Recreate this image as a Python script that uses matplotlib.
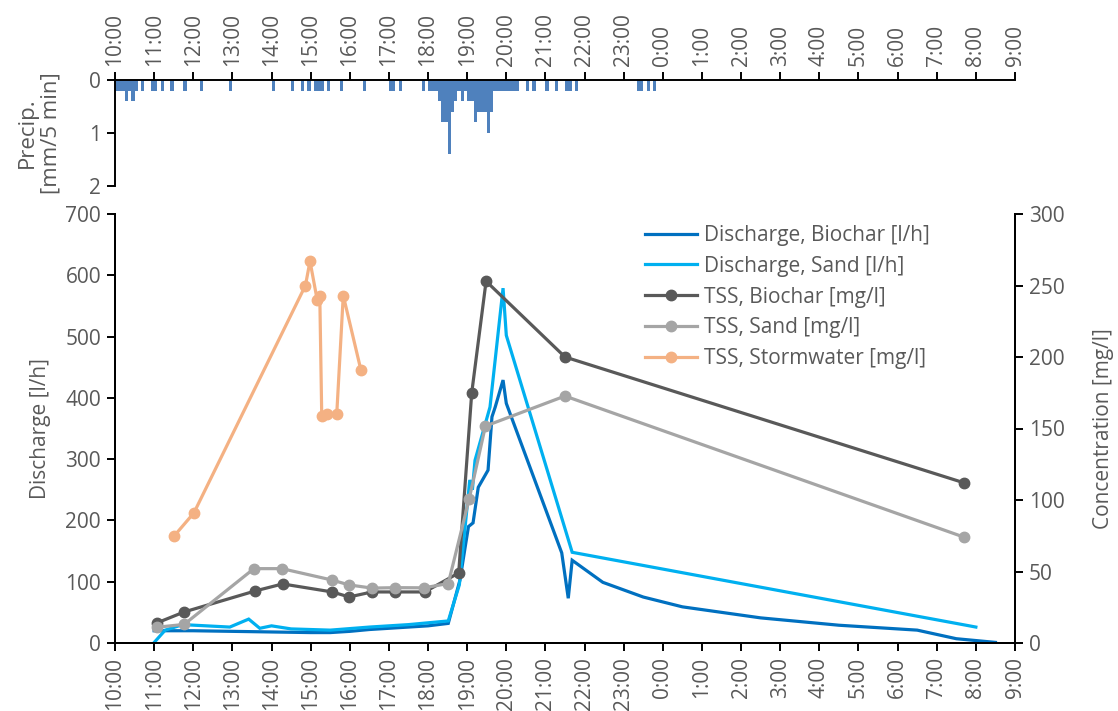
import matplotlib
matplotlib.use("Agg")
import matplotlib.pyplot as plt

plt.rcParams["font.family"] = ["Open Sans", "DejaVu Sans"]

TEXT = "#595959"

# ---- data -------------------------------------------------------------
hour_labels = ["10:00", "11:00", "12:00", "13:00", "14:00", "15:00", "16:00",
               "17:00", "18:00", "19:00", "20:00", "21:00", "22:00", "23:00",
               "0:00", "1:00", "2:00", "3:00", "4:00", "5:00", "6:00", "7:00",
               "8:00", "9:00"]

# precipitation, 5-minute intervals (start time, mm)
precip_time = ["10:00", "10:05", "10:10", "10:15", "10:20", "10:25", "10:30",
               "10:40", "10:55", "11:00", "11:10", "11:25", "11:45", "12:10",
               "12:55", "14:00", "14:30", "14:45", "14:55", "15:05", "15:10",
               "15:15", "15:25", "15:45", "16:20", "17:00", "17:05", "17:15",
               "17:50", "18:00", "18:05", "18:10", "18:15", "18:20", "18:25",
               "18:30", "18:35", "18:40", "18:45", "18:50", "18:55", "19:00",
               "19:05", "19:10", "19:15", "19:20", "19:25", "19:30", "19:35",
               "19:40", "19:45", "19:50", "19:55", "20:00", "20:05", "20:10",
               "20:15", "20:30", "20:40", "21:00", "21:15", "21:30", "21:35",
               "21:45", "23:20", "23:25", "23:35", "23:45"]
precip_mm = [0.2, 0.2, 0.2, 0.4, 0.2, 0.4, 0.2,
             0.2, 0.2, 0.2, 0.2, 0.2, 0.2, 0.2,
             0.2, 0.2, 0.2, 0.2, 0.2, 0.2, 0.2,
             0.2, 0.2, 0.2, 0.2, 0.2, 0.2, 0.2,
             0.2, 0.2, 0.2, 0.2, 0.4, 0.8, 0.8,
             1.4, 0.6, 0.4, 0.2, 0.4, 0.2, 0.4,
             0.4, 0.8, 0.6, 0.6, 0.6, 1.0, 0.6,
             0.2, 0.2, 0.2, 0.2, 0.2, 0.2, 0.2,
             0.2, 0.2, 0.2, 0.2, 0.2, 0.2, 0.2,
             0.2, 0.2, 0.2, 0.2, 0.2]

# discharge [l/h]
q_biochar_time = ["11:00", "12:00", "13:00", "14:00", "15:00", "15:30", "16:00",
                  "16:30", "17:00", "18:00", "18:31", "18:49", "18:57", "19:02",
                  "19:09", "19:17", "19:32", "19:38", "19:43", "19:55", "20:00",
                  "21:25", "21:35", "21:41", "22:28", "23:30", "0:30", "2:30",
                  "4:30", "6:30", "7:30", "8:30"]
q_biochar = [20, 20, 19, 18, 17, 17, 19,
             22, 24, 28, 32, 103, 157, 190,
             196, 254, 282, 369, 385, 429, 391,
             147, 73, 135, 99, 75, 59, 41,
             29, 21, 7, 1]

q_sand_time = ["11:01", "11:17", "11:44", "12:56", "13:25", "13:42", "14:00",
               "14:30", "15:30", "16:30", "17:30", "18:31", "18:48", "19:04",
               "19:08", "19:12", "19:35", "19:55", "20:00", "21:41", "7:50",
               "8:00"]
q_sand = [2, 21, 30, 26, 39, 24, 28,
          23, 21, 26, 30, 36, 95, 266,
          250, 298, 385, 579, 502, 148, 28,
          26]

# total suspended solids [mg/l]
tss_biochar_time = ["11:04", "11:46", "13:35", "14:17", "15:33", "15:59",
                    "16:34", "17:10", "17:55", "18:47", "19:07", "19:29",
                    "21:30", "7:42"]
tss_biochar = [14, 21.7, 36.4, 41.3, 35.7, 32.2,
               35.7, 35.7, 35.7, 49, 175, 253,
               200, 112]

tss_sand_time = ["11:04", "11:46", "13:33", "14:16", "15:33", "15:59",
                 "16:34", "17:10", "17:54", "18:31", "19:03", "19:28",
                 "21:30", "7:42"]
tss_sand = [11, 13, 52, 52, 44, 40.6,
            38.4, 38.7, 38.6, 41.6, 100.6, 151.7,
            172.7, 74]

tss_storm_time = ["11:31", "12:01", "14:52", "14:59", "15:10", "15:14",
                  "15:17", "15:25", "15:40", "15:50", "16:17"]
tss_storm = [75, 91, 250, 267, 240, 243,
             159, 160, 160, 243, 191]


def hours(stamps):
    """Hours elapsed since 10:00 on the first day."""
    out = []
    for s in stamps:
        h, m = map(int, s.split(":"))
        if h < 10:
            h += 24
        out.append(h - 10 + m / 60)
    return out


# ---- figure -----------------------------------------------------------
W, H = 1118, 711
fig = plt.figure(figsize=(W / 100, H / 100), dpi=100)
L, R = 115, 1015
axp = fig.add_axes([L / W, 1 - 186 / H, (R - L) / W, 106 / H])
ax = fig.add_axes([L / W, 1 - 643 / H, (R - L) / W, 429 / H])
ax2 = ax.twinx()

FS = 15
tick_kw = dict(direction="out", length=6, width=1.4, colors="black",
               labelcolor=TEXT, labelsize=FS, pad=4)

# precipitation panel (inverted)
axp.bar(hours(precip_time), precip_mm, width=1 / 12, align="edge",
        color="#4F81BD", linewidth=0)
axp.set_xlim(0, 23)
axp.set_ylim(2, 0)
axp.set_yticks([0, 1, 2])
axp.xaxis.tick_top()
axp.set_xticks(range(24))
axp.set_xticklabels(hour_labels, rotation=90)
axp.tick_params(axis="both", **tick_kw)
for side in ("bottom", "right"):
    axp.spines[side].set_visible(False)
for side in ("top", "left"):
    axp.spines[side].set_linewidth(1.4)
axp.set_ylabel("Precip.\n[mm/5 min]", color=TEXT, fontsize=16, labelpad=20,
               linespacing=1.15)

# discharge and TSS panel
l1, = ax.plot(hours(q_biochar_time), q_biochar, color="#0070C0", lw=2.3,
              label="Discharge, Biochar [l/h]", solid_joinstyle="miter")
l2, = ax.plot(hours(q_sand_time), q_sand, color="#00B0F0", lw=2.3,
              label="Discharge, Sand [l/h]", solid_joinstyle="miter")
l3, = ax2.plot(hours(tss_biochar_time), tss_biochar, color="#595959", lw=2.3,
               marker="o", ms=7.5, label="TSS, Biochar [mg/l]")
l4, = ax2.plot(hours(tss_sand_time), tss_sand, color="#A5A5A5", lw=2.3,
               marker="o", ms=7.5, label="TSS, Sand [mg/l]")
l5, = ax2.plot(hours(tss_storm_time), tss_storm, color="#F4B183", lw=2.3,
               marker="o", ms=7.5, label="TSS, Stormwater [mg/l]")

ax.set_xlim(0, 23)
ax.set_ylim(0, 700)
ax.set_yticks(range(0, 701, 100))
ax2.set_ylim(0, 300)
ax2.set_yticks(range(0, 301, 50))
ax.set_xticks(range(24))
ax.set_xticklabels(hour_labels, rotation=90)
ax.tick_params(axis="both", **tick_kw)
ax2.tick_params(axis="y", **tick_kw)
for a in (ax, ax2):
    a.spines["top"].set_visible(False)
    for side in ("left", "right", "bottom"):
        a.spines[side].set_linewidth(1.4)
ax.set_ylabel("Discharge [l/h]", color=TEXT, fontsize=FS, labelpad=10)
ax2.set_ylabel("Concentration [mg/l]", color=TEXT, fontsize=FS, labelpad=20)

leg = ax2.legend(handles=[l1, l2, l3, l4, l5], loc="upper left",
                 bbox_to_anchor=(645 / W, 1 - 225 / H),
                 bbox_transform=fig.transFigure, frameon=False, fontsize=FS,
                 handlelength=2.5, handletextpad=0.35, labelspacing=0.47,
                 borderaxespad=0, borderpad=0)
for t in leg.get_texts():
    t.set_color(TEXT)

fig.savefig("out.png", dpi=100)
